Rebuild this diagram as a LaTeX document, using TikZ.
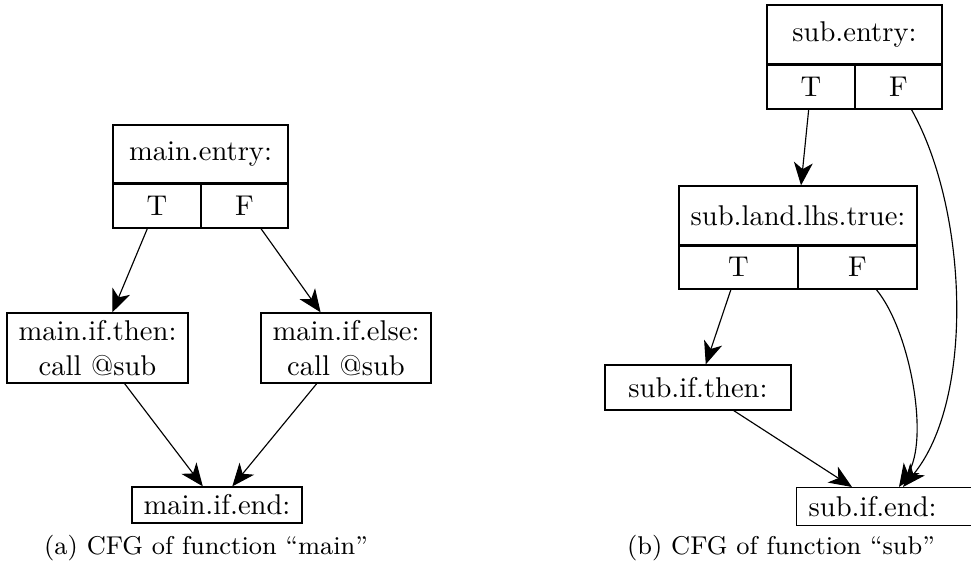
\documentclass[tikz,border=0pt]{standalone}
\usetikzlibrary{arrows.meta,calc}
\newcommand\pxu{0.35pt}
\begin{document}
\begin{tikzpicture}[x=0.35pt,y=-0.35pt,
  box/.style={draw,line width=0.45pt,inner sep=0pt,align=center},
  edge/.style={draw,line width=0.4pt,-{Stealth[length=8pt,width=6.6pt,inset=2.3pt]}},
  splitline/.style={line width=0.9pt},
  captext/.style={font=\small}]
\clip (0,0) rectangle (971,578);
% ---- main ----
\node[box,minimum width=175*\pxu,minimum height=58*\pxu] (mentry) at (200.5,154) {main.entry:};
\node[box,minimum width=88*\pxu,minimum height=45*\pxu] (mT) at (157,205.5) {T};
\node[box,minimum width=87*\pxu,minimum height=45*\pxu] (mF) at (244.5,205.5) {F};
\draw[splitline] (mentry.south west) -- (mentry.south east);
\node[box,minimum width=181*\pxu,minimum height=70*\pxu] (mthen) at (97.5,348) {main.if.then:\\call @sub};
\node[box,minimum width=170*\pxu,minimum height=70*\pxu] (melse) at (346,348) {main.if.else:\\call @sub};
\node[box,minimum width=170*\pxu,minimum height=36*\pxu] (mend) at (217,505) {main.if.end:};
\draw[edge] (mT) -- (mthen);
\draw[edge] (mF) -- (melse);
\draw[edge] (mthen) -- (mend);
\draw[edge] (melse) -- (mend);
\node[captext] (capa) at (206,548) {(a) CFG of function ``main''};
% ---- sub ----
\node[box,minimum width=175*\pxu,minimum height=59*\pxu] (sentry) at (854.5,34.5) {sub.entry:};
\node[box,minimum width=88*\pxu,minimum height=45*\pxu] (sT) at (811,86.5) {T};
\node[box,minimum width=87*\pxu,minimum height=45*\pxu] (sF) at (898.5,86.5) {F};
\draw[splitline] (sentry.south west) -- (sentry.south east);
\node[box,minimum width=238*\pxu,minimum height=59*\pxu] (slhs) at (798,215.5) {sub.land.lhs.true:};
\node[box,minimum width=119*\pxu,minimum height=44*\pxu] (lT) at (738.5,267) {T};
\node[box,minimum width=119*\pxu,minimum height=44*\pxu] (lF) at (857.5,267) {F};
\draw[splitline] (slhs.south west) -- (slhs.south east);
\node[box,minimum width=186*\pxu,minimum height=45*\pxu] (sifthen) at (698,387.5) {sub.if.then:};
\node[box,anchor=north west,text width=180*\pxu,inner xsep=12*\pxu,minimum height=38*\pxu,align=left] (sifend) at (796,487) {sub.if.end:};
\draw[edge] (sT) -- (slhs);
\draw[edge] (lT) -- (sifthen);
\draw[edge] (sifthen) -- ($(sifend.north west)+(56,0)$);
\draw[edge] (sF) .. controls (968,210) and (975,400) .. ($(sifend.north west)+(107,0)$);
\draw[edge] (lF) .. controls (910,330) and (930,440) .. ($(sifend.north west)+(103,0)$);
\node[captext] (capb) at (781,548) {(b) CFG of function ``sub''};
\end{tikzpicture}
\end{document}
